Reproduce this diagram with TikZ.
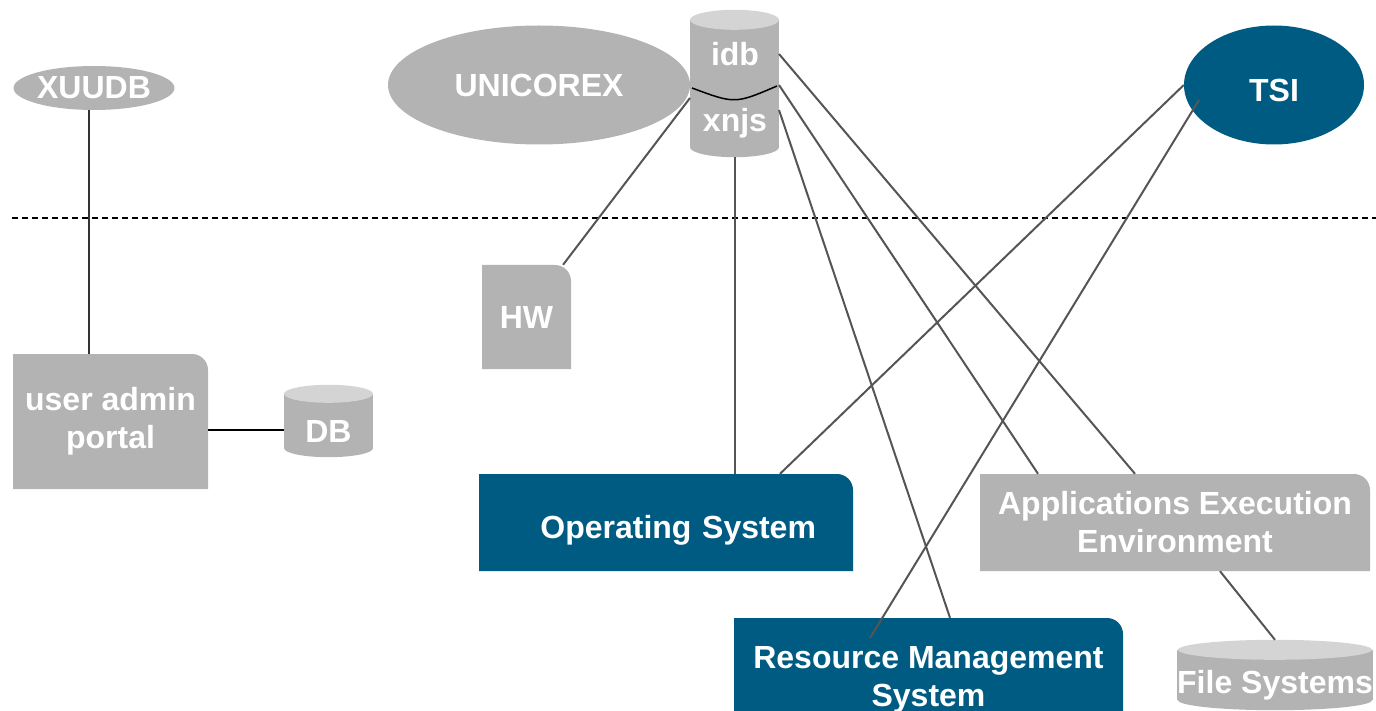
\documentclass[tikz,border=0pt]{standalone}
\usepackage{fontspec}
\setmainfont{Liberation Sans}
\usetikzlibrary{shapes.geometric,backgrounds}
\definecolor{boxgray}{RGB}{179,179,179}
\definecolor{capgray}{RGB}{212,212,212}
\definecolor{tsiblue}{RGB}{0,91,130}
\definecolor{linegray}{RGB}{85,85,85}
\begin{document}
\begin{tikzpicture}
  [x=1pt,y=-1pt,
   every node/.style={text=white,font=\bfseries\fontsize{32}{38}\selectfont,inner sep=0pt,align=center},
   blob/.style={ellipse,fill=#1},
   can/.style={fill=boxgray,text height=43pt},
   tabbox/.style={path picture={\fill[#1] (path picture bounding box.south west)
     -- (path picture bounding box.north west) [rounded corners=16pt]
     -- (path picture bounding box.north east) [sharp corners]
     -- (path picture bounding box.south east) -- cycle;}},
   conn/.style={draw=linegray,line width=2pt}]
  \useasboundingbox (0,0) rectangle (1376,711);
  % top row
  \node[blob=boxgray,minimum width=155pt,minimum height=44pt] (xuudb) at (94,88) {XUUDB};
  \node[blob=boxgray,minimum width=302pt,minimum height=119pt] (unicorex) at (539,85) {UNICOREX};
  \node[blob=tsiblue,minimum width=180pt,minimum height=119pt,text height=33pt] (tsi) at (1274,85) {TSI};
  \node[can,minimum width=89pt,minimum height=127pt] (store) at (734.5,83.5) {};
  % separator
  \coordinate (sepL) at (12,218);
  \coordinate (sepR) at (1376,218);
  \draw[black,line width=1.5pt,dash pattern=on 6pt off 4pt] (sepL) -- (sepR);
  % lower part
  \node[tabbox=boxgray,minimum width=195pt,minimum height=135pt] (portal) at (110.5,421.5) {user admin\\portal};
  \node[can,minimum width=89pt,minimum height=54pt] (db) at (328.5,421) {DB};
  \node[tabbox=boxgray,minimum width=89pt,minimum height=104pt] (hw) at (526.5,317) {HW};
  \node[tabbox=tsiblue,minimum width=374pt,minimum height=97pt,text width=300pt,align=right,text height=39pt] (os) at (666,522.5) {Operating System};
  \node[tabbox=tsiblue,minimum width=389pt,minimum height=108pt,text height=75pt] (rms) at (928.5,672) {Resource Management\\System};
  \node[tabbox=boxgray,minimum width=390pt,minimum height=97pt] (apps) at (1175,522.5) {Applications Execution\\Environment};
  \node[can,minimum width=194pt,minimum height=50pt] (fs) at (1275,675) {File Systems};
  % cylinder ends
  \begin{scope}[on background layer]
    \foreach \n/\rx/\ry in {store/44.5/10, db/44.5/9, fs/97/10}
      \fill[boxgray] (\n.south) ellipse [x radius=\rx pt, y radius=\ry pt];
  \end{scope}
  \foreach \n/\rx/\ry in {store/44.5/10, db/44.5/9, fs/97/10}
    \fill[capgray] (\n.north) ellipse [x radius=\rx pt, y radius=\ry pt];
  \node (idb) at (735,54) {idb};
  \node (xnjs) at (735,123) {xnjs};
  \draw[black,line width=1.5pt] (692,88) .. controls (735,104) .. (777,86);
  % connector ends
  \coordinate (storeNE) at ([xshift=44.5pt,yshift=29.5pt]store.center);
  \coordinate (storeE) at ([xshift=44.5pt,yshift=-1.5pt]store.center);
  \coordinate (storeSE) at ([xshift=44.5pt,yshift=-26.5pt]store.center);
  \coordinate (storeW) at ([xshift=-44.5pt,yshift=-14.5pt]store.center);
  \coordinate (storeS) at ([yshift=-10pt]store.south);
  \coordinate (tsiIn) at ([xshift=-75pt,yshift=-15pt]tsi.center);
  \coordinate (rmsIn) at ([xshift=-58.5pt,yshift=34pt]rms.center);
  \coordinate (rmsTop) at ([xshift=21.5pt]rms.north);
  \coordinate (hwTop) at (hw.55);
  \coordinate (osTop) at (store |- os.north);
  \coordinate (osRight) at ([xshift=114pt]os.north);
  \coordinate (appsA) at ([xshift=-40pt]apps.north);
  \coordinate (appsB) at ([xshift=-137pt]apps.north);
  \coordinate (appsBot) at ([xshift=45pt]apps.south);
  \coordinate (fsTop) at ([yshift=10pt]fs.north);
  \coordinate (xuudbBot) at ([xshift=-5pt]xuudb.south);
  \coordinate (dbW) at ([xshift=-44.5pt,yshift=-8.5pt]db.center);
  \draw[draw=black!80,line width=2pt] (xuudbBot) -- (xuudbBot |- portal.north);
  \draw[draw=black,line width=2pt] (portal.east |- dbW) -- (dbW);
  \foreach \from/\to in {hwTop/storeW, storeS/osTop, osRight/tsi.west, tsiIn/rmsIn,
      storeNE/appsA, storeE/appsB, storeSE/rmsTop, appsBot/fsTop}
    \draw[conn] (\from) -- (\to);
\end{tikzpicture}
\end{document}
